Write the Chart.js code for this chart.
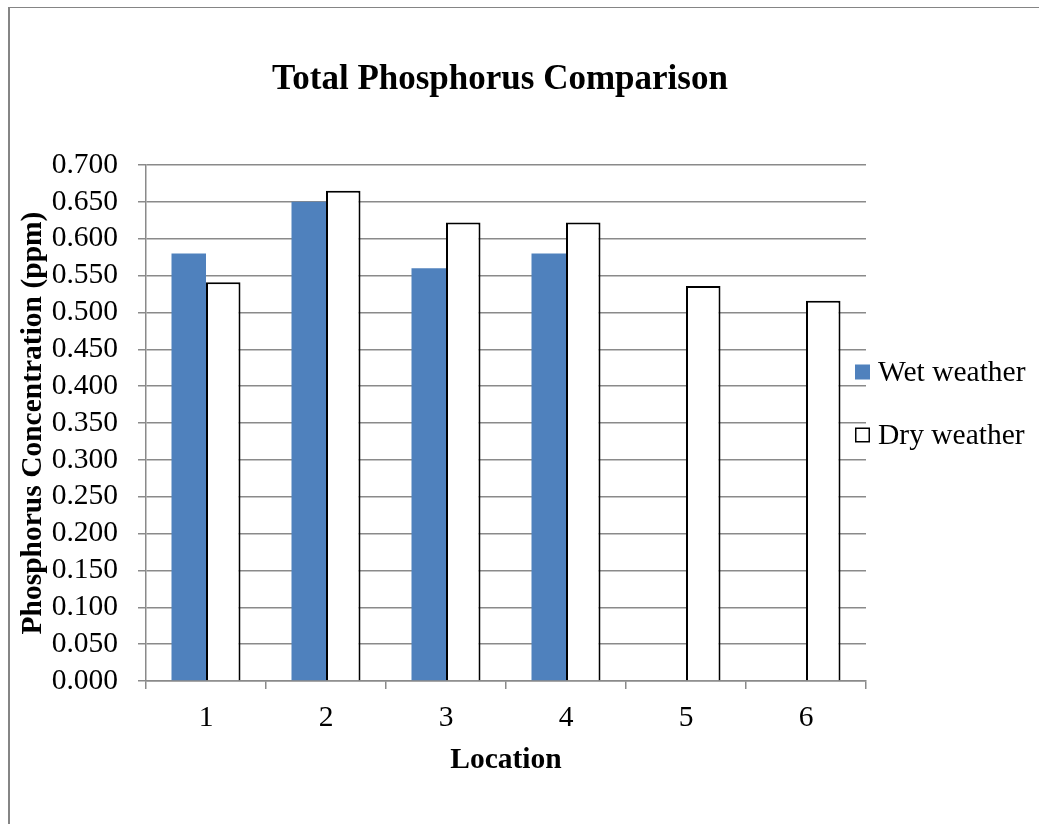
<!DOCTYPE html>
<html>
<head>
<meta charset="utf-8">
<script src="https://cdn.jsdelivr.net/npm/chart.js@4.4.1/dist/chart.umd.min.js"></script>
<style>
  body { margin: 0; background: #fff; }
  #wrap { position: relative; width: 1039px; height: 824px; }
  #frame { position: absolute; left: 8px; top: 7px; right: 0; bottom: 0;
           border-left: 2px solid #858585; border-top: 1px solid #858585; pointer-events: none; }
</style>
</head>
<body>
<div id="wrap">
  <canvas id="myChart" width="1039" height="824"></canvas>
  <div id="frame"></div>
</div>
<script>
// datos
const locations = ['1', '2', '3', '4', '5', '6'];
const wetWeather = [0.580, 0.650, 0.560, 0.580, null, null];
const dryWeather = [0.541, 0.665, 0.622, 0.622, 0.536, 0.516];
const seriesNames = ['Wet weather', 'Dry weather'];
const chartTitle = 'Total Phosphorus Comparison';
const yMax = 0.7;
const yStep = 0.05;

const serif = 'Liberation Serif, Times New Roman, serif';
const gridGray = '#8a8a8a';

// titulo y leyenda dibujados a mano (el titulo va centrado en toda la pagina)
const extras = {
  id: 'extras',
  afterDraw(chart) {
    const ctx = chart.ctx;
    ctx.save();
    ctx.fillStyle = '#000';
    ctx.font = 'bold 35px ' + serif;
    ctx.textAlign = 'center';
    ctx.textBaseline = 'middle';
    ctx.fillText(chartTitle, 500, 80);

    const x = chart.chartArea.right - 11;
    const rows = [372, 435];
    ctx.font = '29.5px ' + serif;
    ctx.textAlign = 'left';
    chart.data.datasets.forEach((ds, i) => {
      const y = rows[i];
      ctx.fillStyle = ds.backgroundColor;
      ctx.fillRect(x, y - 7.5, 15, 15);
      if (ds.borderWidth) {
        ctx.strokeStyle = ds.borderColor;
        ctx.lineWidth = 1.5;
        ctx.strokeRect(x + 0.75, y - 6.75, 13.5, 13.5);
      }
      ctx.fillStyle = '#000';
      ctx.fillText(ds.label, x + 23, y + 1);
    });
    ctx.restore();
  }
};

const ctx = document.querySelector('#myChart');

new Chart(ctx, {
  type: 'bar',
  data: {
    labels: locations,
    datasets: [{
      label: seriesNames[0],
      data: wetWeather,
      backgroundColor: '#4F81BD',
      borderWidth: 0
    }, {
      label: seriesNames[1],
      data: dryWeather,
      backgroundColor: '#ffffff',
      borderColor: '#000000',
      borderWidth: 2
    }]
  },
  options: {
    responsive: false,
    animation: false,
    layout: { padding: { left: 10, right: 173, top: 165, bottom: 0 } },
    datasets: { bar: { categoryPercentage: 0.575, barPercentage: 1.0 } },
    plugins: {
      legend: { display: false },
      tooltip: { enabled: false },
      title: { display: false }
    },
    scales: {
      x: {
        offset: true,
        afterFit(scale) { scale.height = 143; },
        grid: { display: true, drawOnChartArea: false, drawTicks: true, tickLength: 8, color: gridGray, lineWidth: 1.5 },
        border: { color: gridGray, width: 1.5 },
        ticks: { color: '#000', padding: 12, font: { family: serif, size: 29.5 } },
        title: {
          display: true, text: 'Location', color: '#000',
          font: { family: serif, size: 29.5, weight: 'bold' },
          padding: { top: 0, bottom: 46 }
        }
      },
      y: {
        min: 0,
        max: yMax,
        afterFit(scale) { scale.width = 136; },
        grid: { color: gridGray, lineWidth: 1.5, tickLength: 8 },
        border: { color: gridGray, width: 1.5 },
        ticks: {
          stepSize: yStep,
          autoSkip: false,
          color: '#000',
          padding: 20,
          font: { family: serif, size: 29.5 },
          callback: (v) => v.toFixed(3)
        },
        title: {
          display: true, text: 'Phosphorus Concentration (ppm)', color: '#000',
          font: { family: serif, size: 29.5, weight: 'bold' },
          padding: { top: 6, bottom: 0 }
        }
      }
    }
  },
  plugins: [extras]
});
</script>
</body>
</html>
